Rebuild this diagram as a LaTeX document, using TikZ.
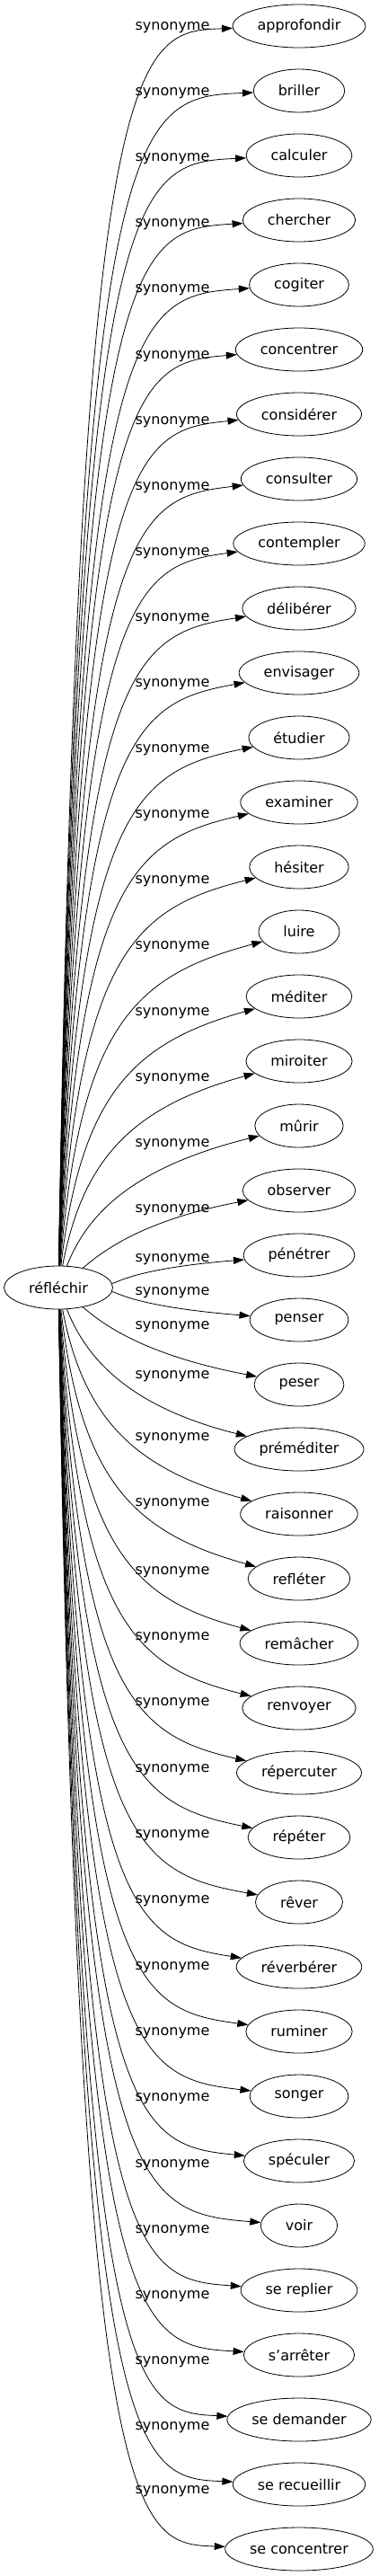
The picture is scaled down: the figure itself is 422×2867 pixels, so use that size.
\documentclass[tikz,border=0pt]{standalone}
\usepackage{fontspec}
\setmainfont{DejaVu Sans}
\usetikzlibrary{shapes.geometric,arrows.meta}
\begin{document}
\begin{tikzpicture}[x=1pt,y=-1pt,
    word/.style={draw,ellipse,line width=.8pt,inner sep=0pt,minimum height=48pt},
    lbl/.style={inner sep=0pt},
    syn/.style={line width=.8pt,-{Triangle[length=12pt,width=8pt]}}]
  \fontsize{16}{19}\selectfont
  \useasboundingbox (0,0) rectangle (422,2867);
  \pgfmathsetmacro\nw{width("réfléchir")+55}
  \node[word,minimum width=\nw pt] (src) at (65,1433) {réfléchir};
  \foreach \mot/\ly [count=\i from 0] in {approfondir/31, briller/104,
      calculer/177, chercher/250, cogiter/323, concentrer/397,
      considérer/470, consulter/543, contempler/616, délibérer/689,
      envisager/762, étudier/835, examiner/908, hésiter/981, luire/1054,
      méditer/1128, miroiter/1201, mûrir/1274, observer/1347,
      pénétrer/1402, penser/1439, peser/1477, préméditer/1532,
      raisonner/1601, refléter/1674, remâcher/1750, renvoyer/1823,
      répercuter/1896, répéter/1970, rêver/2043, réverbérer/2116,
      ruminer/2190, songer/2263, spéculer/2336, voir/2410,
      se replier/2483, s'arrêter/2556, se demander/2629,
      se recueillir/2702, se concentrer/2773}{
    \pgfmathsetmacro\yt{29+72*\i}
    \pgfmathsetmacro\dist{abs(1433-\yt)}
    \pgfmathsetmacro\sgn{(\yt<1433) ? 1 : -1}
    \pgfmathsetmacro\fac{exp(-(\dist-252)/300)}
    \pgfmathsetmacro\ya{\yt+\sgn*0.42*\dist*\fac}
    \pgfmathsetmacro\yb{\yt+\sgn*0.2*\dist*\fac}
    \pgfmathsetmacro\xa{88+60*exp(-\dist/100)}
    \pgfmathsetmacro\nw{width("\mot")+55}
    \node[word,minimum width=\nw pt] (t\i) at (333,\yt) {\mot};
    \node[lbl] (l\i) at (192,\ly) {synonyme};
    \draw[syn] (src) .. controls (\xa,\ya) and (150,\yb) .. (t\i);
  }
\end{tikzpicture}
\end{document}
